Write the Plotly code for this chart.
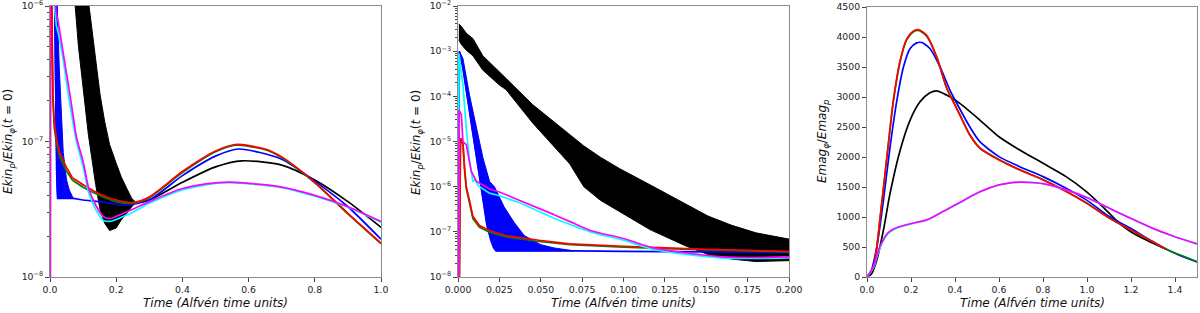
import plotly.graph_objects as go

# ---------------- Kinetic-energy ratio Ekin_p / Ekin_phi(t=0) (panels 1 and 2) ----------------
# black: fast oscillating band (upper / lower envelope) followed by a single curve
black_band_t = [0.0005, 0.002, 0.005, 0.009, 0.015, 0.025, 0.029, 0.045, 0.0675, 0.076, 0.086, 0.0977,
                0.116, 0.138, 0.151, 0.165, 0.18, 0.2, 0.215, 0.232, 0.247, 0.26]
black_band_hi = [4.0e-3, 3.55e-3, 2.5e-3, 1.9e-3, 7.9e-4, 3.55e-4, 2.5e-4, 6.6e-5, 1.4e-5, 8.0e-6, 4.5e-6, 2.5e-6,
                 1.1e-6, 4.1e-7, 2.24e-7, 1.41e-7, 9.5e-8, 6.9e-8, 5.5e-8, 4.5e-8, 3.8e-8, 3.55e-8]
black_band_lo = [1.78e-3, 1.41e-3, 1.05e-3, 7.9e-4, 3.8e-4, 1.78e-4, 1.41e-4, 2.6e-5, 3.2e-6, 1.0e-6, 5.0e-7, 2.8e-7,
                 1.12e-7, 4.8e-8, 3.16e-8, 2.5e-8, 2.2e-8, 2.3e-8, 2.63e-8, 2.95e-8, 3.3e-8, 3.55e-8]
black_t = [0.26, 0.3, 0.4, 0.5, 0.58, 0.7, 0.8, 0.9, 1.0]
black_ekin = [3.55e-8, 3.7e-8, 5.0e-8, 6.5e-8, 7.2e-8, 6.7e-8, 5.2e-8, 3.6e-8, 2.33e-8]

# blue: oscillating band (upper envelope) + lower envelope continuing as a curve
blue_band_t = [0.0008, 0.003, 0.007, 0.0111, 0.0151, 0.0191, 0.022, 0.028, 0.034, 0.040, 0.050, 0.058, 0.066, 0.07]
blue_band_hi = [1.0e-3, 6.8e-4, 1.05e-4, 1.95e-5, 4.3e-6, 1.3e-6, 1.0e-6, 3.5e-7, 1.6e-7, 8.3e-8, 5.2e-8, 4.4e-8,
                4.0e-8, 3.8e-8]
blue_t = [0.0, 0.0008, 0.003, 0.006, 0.009, 0.0121, 0.013, 0.015, 0.0175, 0.020, 0.0215, 0.023, 0.05, 0.07, 0.1,
          0.15, 0.2, 0.23, 0.3, 0.4, 0.5, 0.57, 0.7, 0.8, 0.9, 1.0]
blue_ekin = [1e-12, 1.0e-3, 4.1e-4, 7.6e-5, 1.4e-5, 2.6e-6, 1.4e-6, 5.0e-7, 1.4e-7, 6.3e-8, 4.5e-8, 3.8e-8, 3.8e-8,
             3.8e-8, 3.7e-8, 3.6e-8, 3.45e-8, 3.4e-8, 3.7e-8, 5.6e-8, 7.8e-8, 8.8e-8, 7.4e-8, 5.1e-8, 3.3e-8, 1.9e-8]

# red and green
rg_t = [0.0, 0.0012, 0.0015, 0.002, 0.003, 0.004, 0.005, 0.007, 0.009, 0.013, 0.019, 0.029, 0.049, 0.0675, 0.1,
        0.15, 0.2, 0.25, 0.3, 0.4, 0.5, 0.56, 0.65, 0.7, 0.8, 0.9, 1.0]
red_ekin = [1e-12, 1.0e-5, 1.17e-5, 1.12e-5, 8.9e-6, 2.5e-6, 1.0e-6, 4.8e-7, 2.2e-7, 1.38e-7, 1.07e-7, 8.3e-8,
            6.5e-8, 5.4e-8, 4.8e-8, 4.1e-8, 3.7e-8, 3.55e-8, 3.9e-8, 6.0e-8, 8.5e-8, 9.5e-8, 8.8e-8, 7.7e-8,
            5.0e-8, 2.95e-8, 1.78e-8]
green_ekin = [1e-12, 9.5e-6, 1.12e-5, 1.07e-5, 8.5e-6, 2.3e-6, 9.0e-7, 4.3e-7, 1.95e-7, 1.26e-7, 9.8e-8, 7.7e-8,
              6.1e-8, 5.2e-8, 4.6e-8, 4.0e-8, 3.6e-8, 3.5e-8, 3.85e-8, 5.9e-8, 8.4e-8, 9.4e-8, 8.7e-8, 7.6e-8,
              4.95e-8, 2.92e-8, 1.76e-8]

# magenta and cyan
magenta_t = [0.0, 0.0006, 0.002, 0.003, 0.005, 0.006, 0.008, 0.011, 0.019, 0.025, 0.038, 0.058, 0.068, 0.08, 0.1,
             0.118, 0.138, 0.16, 0.18, 0.2, 0.25, 0.3, 0.4, 0.5, 0.56, 0.7, 0.8, 0.9, 1.0]
magenta_ekin = [1e-12, 5.0e-5, 3.9e-5, 1.0e-5, 8.5e-6, 5.1e-6, 2.2e-6, 1.32e-6, 8.9e-7, 7.6e-7, 4.8e-7, 2.4e-7,
                1.66e-7, 1.07e-7, 7.1e-8, 4.4e-8, 3.4e-8, 2.8e-8, 2.7e-8, 2.8e-8, 3.16e-8, 3.6e-8, 4.5e-8,
                4.95e-8, 5.0e-8, 4.6e-8, 4.0e-8, 3.3e-8, 2.57e-8]
cyan_t = [0.0, 0.0006, 0.003, 0.005, 0.007, 0.009, 0.0105, 0.012, 0.019, 0.025, 0.038, 0.058, 0.08, 0.1, 0.118,
          0.138, 0.16, 0.18, 0.2, 0.25, 0.3, 0.4, 0.5, 0.56, 0.7, 0.8, 0.9, 1.0]
cyan_ekin = [1e-12, 8.7e-4, 1.74e-4, 1.95e-5, 3.6e-6, 1.32e-6, 1.41e-6, 1.07e-6, 7.2e-7, 6.3e-7, 4.3e-7, 2.0e-7,
             1.0e-7, 6.5e-8, 4.1e-8, 3.16e-8, 2.63e-8, 2.57e-8, 2.66e-8, 3.0e-8, 3.5e-8, 4.4e-8, 4.9e-8, 4.95e-8,
             4.57e-8, 3.94e-8, 3.27e-8, 2.54e-8]

# ---------------- Magnetic-energy ratio Emag_phi / Emag_p (panel 3) ----------------
red_mt = [0.0, 0.03, 0.06, 0.0905, 0.12, 0.151, 0.181, 0.211, 0.2335, 0.271, 0.317, 0.362, 0.395, 0.422, 0.467,
          0.513, 0.6, 0.694, 0.8, 0.905, 0.997, 1.101, 1.197, 1.297, 1.357]
red_emag = [0, 176, 1008, 2005, 2948, 3613, 3974, 4101, 4124, 4029, 3668, 3150, 2900, 2700, 2366, 2145, 1951,
            1784, 1618, 1424, 1231, 981, 787, 592, 466]
green_mt = [0.0, 0.03, 0.06, 0.0905, 0.12, 0.151, 0.181, 0.211, 0.2335, 0.271, 0.317, 0.362, 0.395, 0.422, 0.467,
            0.513, 0.6, 0.694, 0.8, 0.905, 0.997, 1.101, 1.197, 1.297, 1.357, 1.397, 1.45, 1.5]
green_emag = [0, 170, 995, 1990, 2930, 3595, 3955, 4085, 4108, 4015, 3660, 3150, 2905, 2708, 2375, 2152, 1958,
              1790, 1624, 1430, 1236, 985, 790, 594, 467, 405, 330, 256]
blue_mt = [0.0, 0.015, 0.045, 0.075, 0.105, 0.136, 0.166, 0.196, 0.226, 0.249, 0.286, 0.332, 0.377, 0.422, 0.467,
           0.513, 0.6, 0.694, 0.8, 0.905, 0.997, 1.101, 1.197, 1.297, 1.397, 1.5]
blue_emag = [0, 60, 509, 1286, 2172, 2948, 3503, 3808, 3902, 3908, 3808, 3503, 3115, 2800, 2505, 2255, 2006, 1839,
             1673, 1480, 1286, 1008, 815, 592, 399, 250]
black_mt = [0.0, 0.02, 0.045, 0.075, 0.105, 0.151, 0.196, 0.241, 0.286, 0.317, 0.377, 0.422, 0.513, 0.6, 0.694,
            0.8, 0.905, 0.997, 1.071, 1.146, 1.197, 1.267, 1.357]
black_emag = [0, 50, 288, 787, 1397, 2117, 2616, 2920, 3070, 3103, 3003, 2893, 2616, 2338, 2117, 1896, 1673, 1424,
              1174, 898, 759, 620, 466]
magenta_mt = [0.0, 0.03, 0.048, 0.06, 0.094, 0.12, 0.139, 0.199, 0.275, 0.35, 0.422, 0.47, 0.513, 0.56, 0.6, 0.65,
              0.694, 0.75, 0.8, 0.905, 0.997, 1.101, 1.197, 1.297, 1.397, 1.5]
magenta_emag = [0, 176, 400, 520, 733, 800, 830, 889, 956, 1100, 1240, 1340, 1420, 1490, 1535, 1568, 1582, 1575,
                1555, 1452, 1330, 1147, 981, 815, 675, 552]
cyan_emag = [0, 160, 375, 495, 715, 785, 822, 885, 954, 1098, 1238, 1338, 1418, 1488, 1533, 1567, 1581, 1574,
             1554, 1451, 1329, 1146, 980, 814, 674, 551]

# tick labels
x1_ticks = [0.0, 0.2, 0.4, 0.6, 0.8, 1.0]
x2_ticks = [0.0, 0.025, 0.05, 0.075, 0.1, 0.125, 0.15, 0.175, 0.2]
x3_ticks = [0.0, 0.2, 0.4, 0.6, 0.8, 1.0, 1.2, 1.4]
y1_ticks = [1e-8, 1e-7, 1e-6]
y1_labels = ["10<sup>−8</sup>", "10<sup>−7</sup>", "10<sup>−6</sup>"]
y2_ticks = [1e-8, 1e-7, 1e-6, 1e-5, 1e-4, 1e-3, 1e-2]
y2_labels = ["10<sup>−8</sup>", "10<sup>−7</sup>", "10<sup>−6</sup>", "10<sup>−5</sup>", "10<sup>−4</sup>",
             "10<sup>−3</sup>", "10<sup>−2</sup>"]
y3_ticks = [0, 500, 1000, 1500, 2000, 2500, 3000, 3500, 4000, 4500]

# ---------------- styles ----------------
BLACK, BLUE, GREEN, RED, CYAN, MAGENTA = "#000000", "#0000ff", "#008000", "#ff0000", "#00ffff", "#ff00ff"
LW = 1.7
SPLIT = 0.05   # before this time the log curves are drawn straight, after it smoothed

fig = go.Figure()


def _trace(x, y, color, xa, ya, smooth):
    ln = dict(color=color, width=LW)
    if smooth:
        ln.update(shape="spline", smoothing=0.7)
    fig.add_trace(go.Scatter(x=x, y=y, mode="lines", line=ln,
                             xaxis=xa, yaxis=ya, showlegend=False, hoverinfo="skip"))


def line(x, y, color, xa, ya, split=None):
    if split is None:
        _trace(x, y, color, xa, ya, True)
        return
    i = next(k for k, v in enumerate(x) if v >= split)
    _trace(x[:i + 1], y[:i + 1], color, xa, ya, False)
    _trace(x[i:], y[i:], color, xa, ya, True)


def band(t, hi, lo_t, lo, color, xa, ya):
    # polygon: upper envelope forward, lower envelope backward
    lower = [(a, b) for a, b in zip(lo_t, lo) if t[0] <= a <= t[-1]]
    px = list(t) + [a for a, _ in reversed(lower)]
    py = list(hi) + [b for _, b in reversed(lower)]
    fig.add_trace(go.Scatter(x=px, y=py, mode="lines", fill="toself", fillcolor=color,
                             line=dict(color=color, width=1), xaxis=xa, yaxis=ya,
                             showlegend=False, hoverinfo="skip"))


for xa, ya in (("x", "y"), ("x2", "y2")):
    band(black_band_t, black_band_hi, black_band_t, black_band_lo, BLACK, xa, ya)
    line(black_t, black_ekin, BLACK, xa, ya)
    band(blue_band_t, blue_band_hi, blue_t, blue_ekin, BLUE, xa, ya)
    line(blue_t, blue_ekin, BLUE, xa, ya, split=SPLIT)
    line(rg_t, green_ekin, GREEN, xa, ya, split=SPLIT)
    line(rg_t, red_ekin, RED, xa, ya, split=SPLIT)
    line(cyan_t, cyan_ekin, CYAN, xa, ya, split=SPLIT)
    line(magenta_t, magenta_ekin, MAGENTA, xa, ya, split=SPLIT)

line(black_mt, black_emag, BLACK, "x3", "y3")
line(blue_mt, blue_emag, BLUE, "x3", "y3")
line(green_mt, green_emag, GREEN, "x3", "y3")
line(red_mt, red_emag, RED, "x3", "y3")
line(magenta_mt, cyan_emag, CYAN, "x3", "y3")
line(magenta_mt, magenta_emag, MAGENTA, "x3", "y3")

W, H = 1200, 313
TOP, BOT = 6, 277
tickfont = dict(family="DejaVu Sans", size=9.3, color="#222222")
axis_common = dict(showline=True, linecolor="#8c8c8c", linewidth=1, mirror=True, ticks="outside",
                   ticklen=4, tickwidth=1, tickcolor="#444444", showgrid=False, zeroline=False,
                   tickfont=tickfont, automargin=False, ticklabeloverflow="allow")


def minor_log(lo_e, hi_e):
    return dict(ticks="outside", ticklen=2, tickwidth=0.8, tickcolor="#444444", showgrid=False,
                tickmode="array", tickvals=[k * 10.0 ** e for e in range(lo_e, hi_e) for k in range(2, 10)])


fig.update_layout(
    template="none",
    width=W, height=H, paper_bgcolor="white", plot_bgcolor="white",
    margin=dict(l=0, r=0, t=TOP, b=H - BOT, pad=0, autoexpand=False), showlegend=False,
    xaxis=dict(axis_common, domain=[50 / W, 381 / W], range=[0, 1], tickmode="array",
               tickvals=x1_ticks, ticktext=[f"{v:.1f}" for v in x1_ticks], anchor="y"),
    yaxis=dict(axis_common, type="log", range=[-8, -6], domain=[0, 1], tickmode="array",
               tickvals=y1_ticks, ticktext=y1_labels, anchor="x", minor=minor_log(-8, -6)),
    xaxis2=dict(axis_common, domain=[458 / W, 789 / W], range=[0, 0.2], tickmode="array",
                tickvals=x2_ticks, ticktext=[f"{v:.3f}" for v in x2_ticks], anchor="y2"),
    yaxis2=dict(axis_common, type="log", range=[-8, -2], domain=[0, 1], tickmode="array",
                tickvals=y2_ticks, ticktext=y2_labels, anchor="x2", minor=minor_log(-8, -2)),
    xaxis3=dict(axis_common, domain=[867 / W, 1197 / W], range=[0, 1.5], tickmode="array",
                tickvals=x3_ticks, ticktext=[f"{v:.1f}" for v in x3_ticks], anchor="y3"),
    yaxis3=dict(axis_common, range=[0, 4500], domain=[0, 1 - 1 / 271], tickmode="array",
                tickvals=y3_ticks, ticktext=[str(v) for v in y3_ticks], anchor="x3"),
)


def py(px):
    return (BOT - px) / (BOT - TOP)


title_font = dict(family="DejaVu Sans", size=12, color="#111111")
xtitle = "<i>Time (Alfvén time units)</i>"
ekin_title = "<i>Ekin</i><sub><i>p</i></sub>/<i>Ekin</i><sub><i>φ</i></sub>(<i>t</i> = 0)"
emag_title = "<i>Emag</i><sub><i>φ</i></sub>/<i>Emag</i><sub><i>p</i></sub>"

for cx in (215.5, 623.5, 1032):
    fig.add_annotation(text=xtitle, x=cx / W, y=py(303), xref="paper", yref="paper",
                       showarrow=False, font=title_font, xanchor="center", yanchor="middle")
for cx, txt in ((9, ekin_title), (417, ekin_title), (823, emag_title)):
    fig.add_annotation(text=txt, x=cx / W, y=py(142), xref="paper", yref="paper", textangle=-90,
                       showarrow=False, font=title_font, xanchor="center", yanchor="middle")

fig.write_html("out.html", config={"displayModeBar": False},
               post_script="document.body.style.margin='0';document.body.style.overflow='hidden';")
